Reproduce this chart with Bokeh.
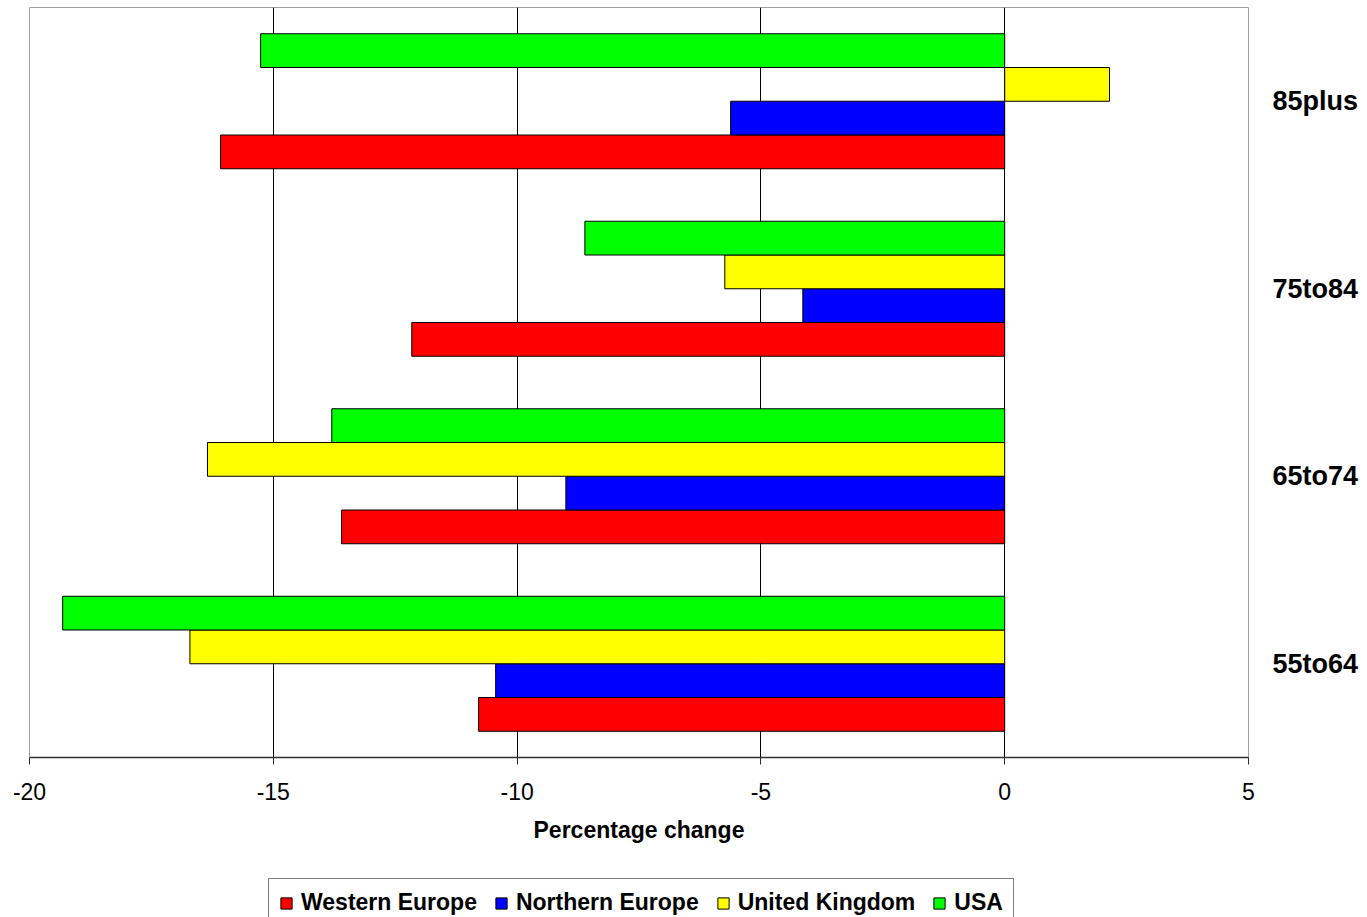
from bokeh.plotting import figure
from bokeh.layouts import column
from bokeh.models import ColumnDataSource, FactorRange, Range1d, FixedTicker, Legend, LegendItem, PrintfTickFormatter
from bokeh.transform import dodge
from bokeh.embed import file_html
from bokeh.resources import INLINE

categories = ["55to64", "65to74", "75to84", "85plus"]
western_europe = [-10.79, -13.60, -12.16, -16.08]
northern_europe = [-10.44, -9.00, -4.14, -5.62]
united_kingdom = [-16.71, -16.35, -5.74, 2.15]
usa = [-19.32, -13.80, -8.61, -15.26]
x_ticks = [-20, -15, -10, -5, 0, 5]

series_names = ["Western Europe", "Northern Europe", "United Kingdom", "USA"]
colors = ["#FF0000", "#0000FF", "#FFFF00", "#00FF00"]
offsets = [-0.27, -0.09, 0.09, 0.27]

FONT = "Liberation Sans"

source = ColumnDataSource(data=dict(
    cat=categories,
    w=western_europe, n=northern_europe, uk=united_kingdom, us=usa,
))

# ---------------- main chart ----------------
p = figure(
    width=1367, height=870,
    y_range=FactorRange(*categories, range_padding=0),
    x_range=Range1d(-20, 5),
    output_backend="svg", toolbar_location=None,
    y_axis_location="right",
    min_border_left=29, min_border_right=119, min_border_top=7, min_border_bottom=113,
)
p.outline_line_color = "#a0a0a0"
p.outline_line_width = 1

cols = ["w", "n", "uk", "us"]
for col, off, color in zip(cols, offsets, colors):
    p.hbar(y=dodge("cat", off, range=p.y_range), left=0, right=col, height=0.18,
           source=source, fill_color=color, line_color="black", line_width=1)

xa = p.xaxis[0]
xa.ticker = FixedTicker(ticks=x_ticks)
xa.formatter = PrintfTickFormatter(format="%d")
xa.minor_tick_line_color = None
xa.major_tick_in = 0
xa.major_tick_out = 7
xa.major_tick_line_color = "#303030"
xa.axis_line_color = "#303030"
xa.axis_line_width = 1.5
xa.major_label_text_font = FONT
xa.major_label_text_font_size = "23px"
xa.major_label_text_color = "black"
xa.major_label_standoff = 18
xa.axis_label = "Percentage change"
xa.axis_label_text_font = FONT
xa.axis_label_text_font_size = "23px"
xa.axis_label_text_font_style = "bold"
xa.axis_label_text_color = "black"
xa.axis_label_standoff = 14

ya = p.yaxis[0]
ya.axis_line_color = None
ya.major_tick_line_color = None
ya.minor_tick_line_color = None
ya.major_tick_out = 0
ya.major_tick_in = 0
ya.major_label_text_font = FONT
ya.major_label_text_font_size = "27px"
ya.major_label_text_font_style = "bold"
ya.major_label_text_color = "black"
ya.major_label_standoff = 24

p.ygrid.grid_line_color = None
p.xgrid.ticker = FixedTicker(ticks=[-15, -10, -5, 0])
p.xgrid.grid_line_color = "black"
p.xgrid.grid_line_width = 1

# ---------------- legend strip ----------------
pl = figure(
    width=1367, height=47,
    x_range=Range1d(0, 1), y_range=Range1d(0, 1),
    output_backend="svg", toolbar_location=None,
    x_axis_location=None, y_axis_location=None,
    min_border_left=0, min_border_right=0, min_border_top=0, min_border_bottom=0,
)
pl.outline_line_color = None
pl.grid.visible = False

# swatch renderers for the legend (kept outside the visible strip)
legend_renderers = []
for color in colors:
    r = pl.hbar(y=[-10], left=[0], right=[0.01], height=0.5,
                fill_color=color, line_color="black", line_width=1)
    legend_renderers.append(r)

legend = Legend(
    items=[LegendItem(label=n, renderers=[r]) for n, r in zip(series_names, legend_renderers)],
    orientation="horizontal",
    location=(239, -10),
    label_text_font=FONT,
    label_text_font_size="23px",
    label_text_font_style="bold",
    label_text_color="black",
    glyph_width=14, glyph_height=14,
    label_standoff=8,
    spacing=17,
    padding=10,
    margin=0,
    border_line_color="black",
    border_line_width=1.5,
    background_fill_alpha=1,
)
pl.add_layout(legend, "center")

layout = column(p, pl, spacing=0)
open("out.html", "w").write(file_html(layout, INLINE))
